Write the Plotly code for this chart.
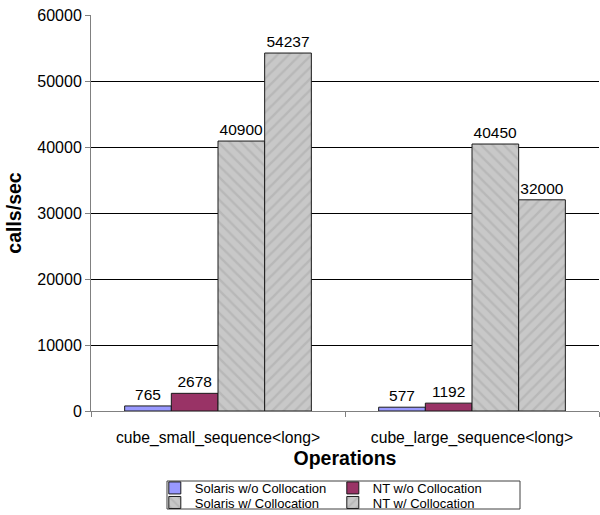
import plotly.graph_objects as go

categories = ["cube_small_sequence<long>", "cube_large_sequence<long>"]
series_names = ["Solaris w/o Collocation", "NT w/o Collocation",
                "Solaris w/ Collocation", "NT w/ Collocation"]
solaris_wo = [765, 577]
nt_wo = [2678, 1192]
solaris_w = [40900, 40450]
nt_w = [54237, 32000]
y_ticks = [0, 10000, 20000, 30000, 40000, 50000, 60000]
y_tick_labels = ["0", "10000", "20000", "30000", "40000", "50000", "60000"]

FONT = "Arial, Liberation Sans, sans-serif"

styles = [
    dict(color="#9999ff"),
    dict(color="#993366"),
    dict(color="#c4c4c4", pattern=dict(shape="\\", fgcolor="#a8a8a8", bgcolor="#c8c8c8", size=8, solidity=0.3)),
    dict(color="#c4c4c4", pattern=dict(shape="/", fgcolor="#a8a8a8", bgcolor="#c8c8c8", size=8, solidity=0.3)),
]
legend_ids = ["legend", "legend", "legend2", "legend2"]
values = [solaris_wo, nt_wo, solaris_w, nt_w]

fig = go.Figure()
for name, vals, st, lg in zip(series_names, values, styles, legend_ids):
    marker = dict(line=dict(color="#1a1a1a", width=1), **st)
    fig.add_trace(go.Bar(
        x=categories, y=vals, name=name, marker=marker, legend=lg,
        text=[str(v) for v in vals], textposition="outside",
        textfont=dict(family=FONT, size=15.5, color="#000000"),
        cliponaxis=False,
    ))

legend_common = dict(
    orientation="h", x=0.476, xanchor="center", yanchor="middle",
    entrywidth=133, entrywidthmode="pixels",
    bgcolor="rgba(0,0,0,0)", borderwidth=0,
    font=dict(family=FONT, size=13, color="#000000"),
    itemwidth=30,
)

fig.update_layout(
    width=600, height=515,
    margin=dict(l=91, r=1, t=15, b=104, autoexpand=False),
    paper_bgcolor="white", plot_bgcolor="white",
    barmode="group", bargap=0.265, bargroupgap=0,
    font=dict(family=FONT, size=15.7, color="#000000"),
    showlegend=True,
    legend=dict(y=-0.1944, **legend_common),
    legend2=dict(y=-0.2311, **legend_common),
    xaxis=dict(
        type="category", showline=True, linecolor="#808080", linewidth=1,
        ticks="outside", ticklen=5, tickcolor="#808080", tickson="boundaries",
        ticklabelstandoff=12,
        showgrid=False, tickfont=dict(size=15.7),
        title=dict(text="<b>Operations</b>", font=dict(size=19.5), standoff=1),
    ),
    yaxis=dict(
        range=[0, 60000], tickvals=y_ticks, ticktext=y_tick_labels,
        showline=True, linecolor="#808080",
        linewidth=1, ticks="outside", ticklen=5, tickcolor="#808080",
        showgrid=True, gridcolor="#000000", gridwidth=1, zeroline=False,
        tickfont=dict(size=16),
        title=dict(text="<b>calls/sec</b>", font=dict(size=19.5), standoff=10),
    ),
    shapes=[dict(
        type="rect", xref="paper", yref="paper",
        x0=0.1496, x1=0.8445, y0=-0.2475, y1=-0.1768,
        line=dict(color="#404040", width=1), fillcolor="rgba(0,0,0,0)",
        layer="below",
    )],
)

fig.write_html("out.html")
